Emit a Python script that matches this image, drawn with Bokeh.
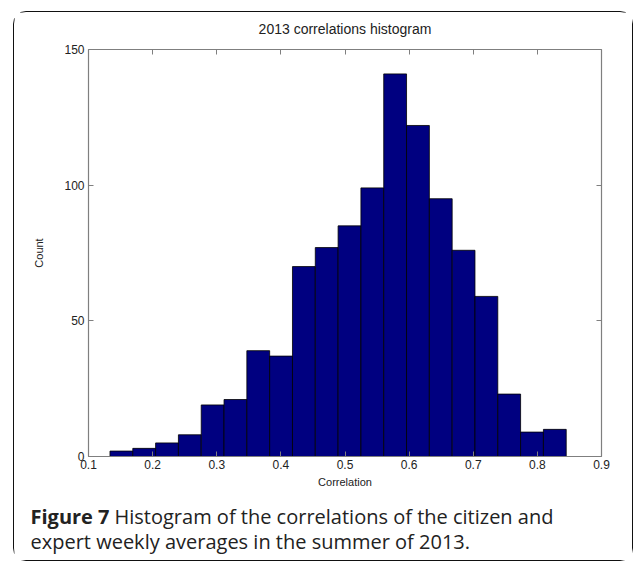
import numpy as np
from bokeh.plotting import figure
from bokeh.layouts import column, row
from bokeh.models import Range1d, LinearAxis, FixedTicker, Label, CustomLabelingPolicy
from bokeh.embed import file_html
from bokeh.resources import INLINE

# ---- data ----
title_text = "2013 correlations histogram"
x_label = "Correlation"
y_label = "Count"
counts = [2, 3, 5, 8, 19, 21, 39, 37, 70, 77, 85, 99, 141, 122, 95, 76, 59, 23, 9, 10]
bin_lo = 0.1335
bin_hi = 0.845
x_ticks = [0.1, 0.2, 0.3, 0.4, 0.5, 0.6, 0.7, 0.8, 0.9]
y_ticks = [0, 50, 100, 150]
caption_bold = "Figure 7"
caption_line1 = "Histogram of the correlations of the citizen and"
caption_line2 = "expert weekly averages in the summer of 2013."

edges = np.linspace(bin_lo, bin_hi, len(counts) + 1)

CW = 618
p = figure(width=CW, height=480, output_backend="svg", toolbar_location=None,
           x_range=Range1d(0.1, 0.9), y_range=Range1d(0, 150),
           min_border_left=74, min_border_right=31, min_border_top=37, min_border_bottom=36,
           x_axis_location=None, y_axis_location=None)
p.outline_line_color = None
p.xgrid.visible = False
p.ygrid.visible = False
p.background_fill_color = "white"
p.border_fill_color = "white"

FONT = "Liberation Sans"
AX = "#7f7f7f"
TXT = "#222222"

p.title.text = title_text
p.title.align = "center"
p.title.text_font = FONT
p.title.text_font_size = "14px"
p.title.text_font_style = "normal"
p.title.text_color = TXT
p.title.standoff = 2

no_labels = CustomLabelingPolicy(code="""
    for (const i of indices) { indices.unset(i) }
    return indices
""")

def style_axis(ax, labels=True):
    ax.axis_line_color = AX
    ax.axis_line_width = 1.2
    ax.major_tick_line_color = AX
    ax.major_tick_in = 5
    ax.major_tick_out = 0
    ax.minor_tick_line_color = None
    ax.major_label_text_font = FONT
    ax.major_label_text_font_size = "12px"
    ax.major_label_text_color = TXT
    ax.axis_label_text_font = FONT
    ax.axis_label_text_font_size = "11px"
    ax.axis_label_text_font_style = "normal"
    ax.axis_label_text_color = TXT
    if not labels:
        ax.major_label_policy = no_labels
        ax.major_label_standoff = 0

xb = LinearAxis(ticker=FixedTicker(ticks=x_ticks), axis_label=x_label)
style_axis(xb)
xb.major_label_standoff = 3
xb.axis_label_standoff = 4
p.add_layout(xb, "below")
xt = LinearAxis(ticker=FixedTicker(ticks=x_ticks))
style_axis(xt, labels=False)
p.add_layout(xt, "above")
yl = LinearAxis(ticker=FixedTicker(ticks=y_ticks), axis_label=y_label)
style_axis(yl)
yl.major_label_standoff = 4
yl.axis_label_standoff = 16
p.add_layout(yl, "left")
yr = LinearAxis(ticker=FixedTicker(ticks=y_ticks))
style_axis(yr, labels=False)
p.add_layout(yr, "right")

p.quad(left=edges[:-1], right=edges[1:], bottom=0, top=counts,
       fill_color="#000080", line_color="#000000", line_width=0.8)

# ---- caption panel ----
CH = 68
c = figure(width=CW, height=CH, output_backend="svg", toolbar_location=None,
           x_range=Range1d(0, CW), y_range=Range1d(0, CH),
           min_border=0, x_axis_location=None, y_axis_location=None)
c.outline_line_color = None
c.xgrid.visible = False
c.ygrid.visible = False
c.background_fill_color = "white"
c.border_fill_color = "white"

cap_font = "Open Sans"
c.add_layout(Label(x=16, y=44, x_units="screen", y_units="screen", text=caption_bold,
                   text_font=cap_font, text_font_size="20px", text_font_style="bold",
                   text_color=TXT, text_baseline="alphabetic"))
c.add_layout(Label(x=100, y=44, x_units="screen", y_units="screen", text=caption_line1,
                   text_font=cap_font, text_font_size="20px",
                   text_color=TXT, text_baseline="alphabetic"))
c.add_layout(Label(x=16, y=19, x_units="screen", y_units="screen", text=caption_line2,
                   text_font=cap_font, text_font_size="20px",
                   text_color=TXT, text_baseline="alphabetic"))

layout = column(row(p), row(c), spacing=0,
                styles={"outline": "1.5px solid #111111", "outline-offset": "0px",
                        "border-radius": "12px",
                        "margin-left": "14px", "margin-top": "12px",
                        "background-color": "white"})

open("out.html", "w").write(file_html(layout, INLINE))
